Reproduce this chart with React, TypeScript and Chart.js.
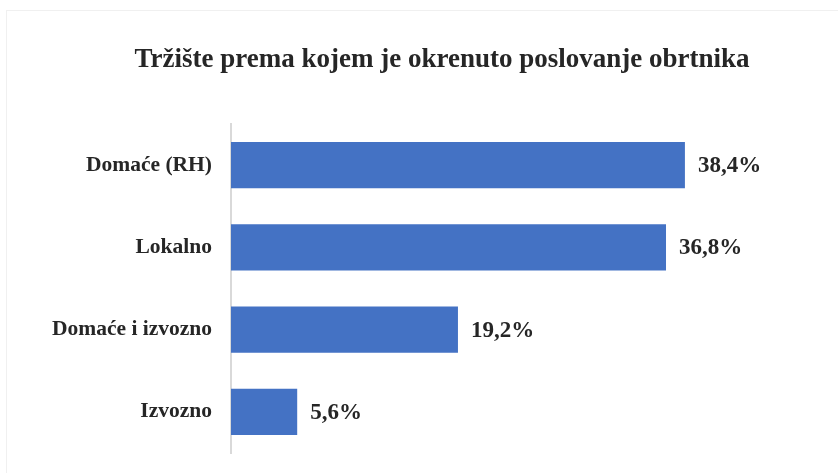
import React, { useEffect, useRef } from "react";
import { Chart, registerables } from "chart.js";

Chart.register(...registerables);

const TITLE = "Tržište prema kojem je okrenuto poslovanje obrtnika";
const categories = ["Domaće (RH)", "Lokalno", "Domaće i izvozno", "Izvozno"];
const values = [38.4, 36.8, 19.2, 5.6];

const FONT = "'Liberation Serif', 'DejaVu Serif', serif";
const TEXT = "#262626";

const valueLabels = {
  id: "valueLabels",
  afterDatasetsDraw(chart: any) {
    const ctx = chart.ctx;
    const meta = chart.getDatasetMeta(0);
    ctx.save();
    ctx.font = `bold 23px ${FONT}`;
    ctx.fillStyle = TEXT;
    ctx.textAlign = "left";
    ctx.textBaseline = "middle";
    meta.data.forEach((el: any, i: number) => {
      const v = chart.data.datasets[0].data[i] as number;
      const txt = v.toFixed(1).replace(".", ",") + "%";
      ctx.fillText(txt, el.x + 13, el.y + 1);
    });
    ctx.restore();
  },
};

export default function App() {
  const ref = useRef<HTMLCanvasElement>(null);
  useEffect(() => {
    if (!ref.current) return;
    const chart = new Chart(ref.current, {
      type: "bar",
      data: {
        labels: categories,
        datasets: [
          {
            data: values,
            backgroundColor: "#4472C4",
            borderWidth: 0,
            categoryPercentage: 0.56,
            barPercentage: 1,
          },
        ],
      },
      options: {
        indexAxis: "y",
        animation: false,
        responsive: false,
        maintainAspectRatio: false,
        layout: { padding: { left: 46, right: 0, top: 0, bottom: 20 } },
        plugins: {
          legend: { display: false },
          tooltip: { enabled: false },
          title: {
            display: true,
            text: TITLE,
            color: TEXT,
            font: { family: FONT, size: 27, weight: "bold", lineHeight: 1.2 },
            padding: { top: 44, bottom: 47.6 },
          },
        },
        scales: {
          x: {
            display: false,
            min: 0,
            max: 51.35,
          },
          y: {
            afterFit: (scale: any) => {
              scale.width = 185;
              scale.paddingTop = 0;
              scale.paddingBottom = 0;
            },
            grid: { display: false, drawTicks: false },
            border: { display: true, color: "#d9d9d9", width: 2 },
            ticks: {
              color: TEXT,
              padding: 19,
              font: { family: FONT, size: 21.5, weight: "bold" },
            },
          },
        },
      },
      plugins: [valueLabels],
    });
    return () => chart.destroy();
  }, []);

  return (
    <div style={{ position: "fixed", left: 0, top: 0, width: 838, height: 473, background: "#fff" }}>
      <div
        style={{
          position: "absolute",
          left: 6,
          top: 10,
          width: 840,
          height: 470,
          borderTop: "1px solid #f0f0f0",
          borderLeft: "1px solid #f0f0f0",
        }}
      />
      <canvas ref={ref} width={838} height={473} style={{ position: "absolute", left: 0, top: 0 }} />
    </div>
  );
}
